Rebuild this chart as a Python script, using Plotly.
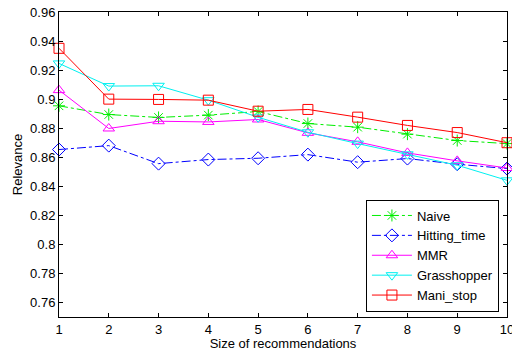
import plotly.graph_objects as go

x = [1, 2, 3, 4, 5, 6, 7, 8, 9, 10]
naive = [0.8954, 0.8894, 0.8874, 0.8890, 0.8915, 0.8832, 0.8807, 0.8759, 0.8715, 0.8694]
hitting = [0.8653, 0.8680, 0.8556, 0.8584, 0.8593, 0.8618, 0.8566, 0.8591, 0.8552, 0.8522]
mmr = [0.9062, 0.8798, 0.8848, 0.8843, 0.8860, 0.8768, 0.8706, 0.8630, 0.8575, 0.8526]
grass = [0.9246, 0.9090, 0.9092, 0.8993, 0.8875, 0.8772, 0.8694, 0.8620, 0.8545, 0.8441]
mani = [0.9350, 0.9000, 0.8998, 0.8993, 0.8917, 0.8929, 0.8876, 0.8819, 0.8770, 0.8700]
yticks = [0.76, 0.78, 0.8, 0.82, 0.84, 0.86, 0.88, 0.9, 0.92, 0.94, 0.96]
ytick_text = ["0.76", "0.78", "0.8", "0.82", "0.84", "0.86", "0.88", "0.9", "0.92", "0.94", "0.96"]

series = [
    ("Naive", naive, "#00ee00", "dashdot", "asterisk-open"),
    ("Hitting_time", hitting, "#0000ff", "dashdot", "diamond-open"),
    ("MMR", mmr, "#ff00ff", "solid", "triangle-up-open"),
    ("Grasshopper", grass, "#00f0f0", "solid", "triangle-down-open"),
    ("Mani_stop", mani, "#ff0000", "solid", "square-open"),
]

fig = go.Figure()
for name, vals, color, dash, sym in series:
    fig.add_trace(go.Scatter(
        x=x, y=vals, name=name, mode="lines+markers", cliponaxis=False,
        line=dict(color=color, width=1, dash=dash),
        marker=dict(symbol=sym, size=10, color=color, line=dict(color=color, width=1)),
    ))

fig.update_layout(
    width=512, height=351,
    margin=dict(l=59, r=5, t=12, b=34, autoexpand=False),
    paper_bgcolor="white", plot_bgcolor="white",
    font=dict(family="Liberation Sans, Arial, sans-serif", size=13, color="black"),
    showlegend=True,
    legend=dict(
        x=0.982, y=0.018, xanchor="right", yanchor="bottom",
        bgcolor="white", bordercolor="black", borderwidth=1,
        font=dict(size=13), tracegroupgap=0, itemwidth=40,
    ),
)
fig.update_xaxes(
    range=[1, 10], tickvals=x, ticks="inside", ticklen=4, tickcolor="black",
    showline=True, linecolor="black", linewidth=1, mirror="ticks",
    showgrid=False, zeroline=False, ticklabeloverflow="allow", automargin=False,
    title=dict(text="Size of recommendations", standoff=0, font=dict(size=13)),
)
fig.update_yaxes(
    range=[0.75, 0.96], tickvals=yticks, ticktext=ytick_text, ticks="inside", ticklen=4,
    tickcolor="black", showline=True, linecolor="black", linewidth=1, mirror="ticks",
    showgrid=False, zeroline=False, automargin=False,
    title=dict(text="Relevance", standoff=4, font=dict(size=13)),
)

fig.write_html(
    "out.html",
    config={"displayModeBar": False},
    post_script="document.body.style.margin='0';document.body.style.overflow='hidden';",
)
